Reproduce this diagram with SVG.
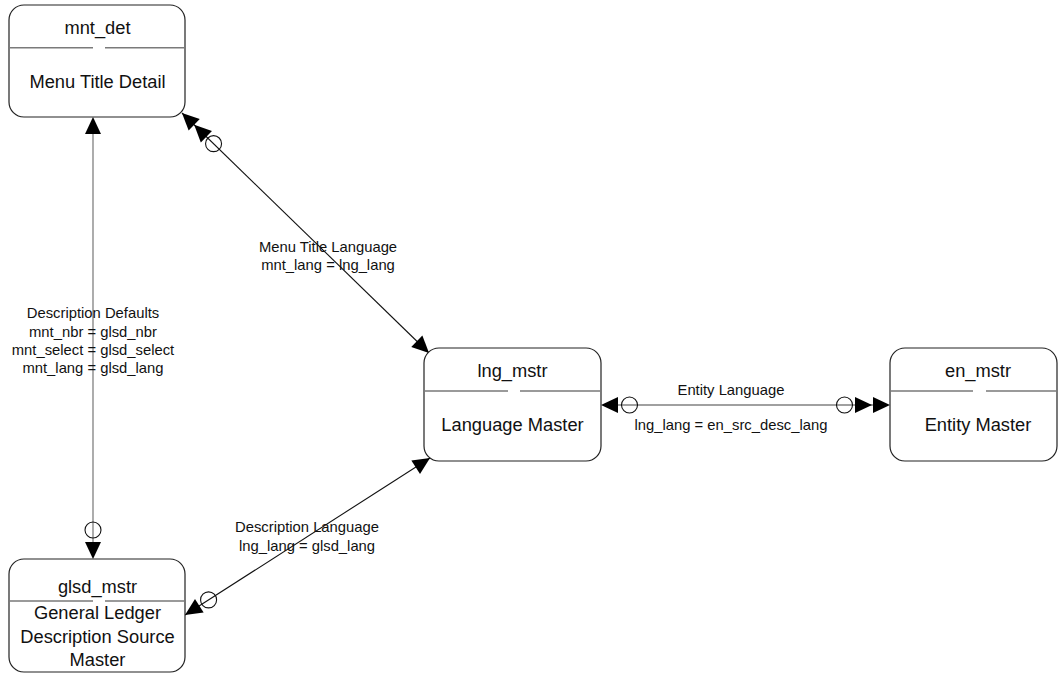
<svg xmlns="http://www.w3.org/2000/svg" width="1058" height="673" viewBox="0 0 1058 673">
<style>
.box{fill:#fff;stroke:#222;stroke-width:1.2}
.div{stroke:#7a7a7a;stroke-width:1.6;fill:none}
.t{font-family:"Liberation Sans",Arial,sans-serif;font-size:18.3px;fill:#111;text-anchor:middle}
.l{font-family:"Liberation Sans",Arial,sans-serif;font-size:14.8px;fill:#111;text-anchor:middle}
.cg{stroke:#808080;stroke-width:1.3;fill:none}
.cb{stroke:#111;stroke-width:1.1;fill:none}
.ah{fill:#000;stroke:none}
.ci{fill:none;stroke:#111;stroke-width:1.1}
</style>
<rect width="1058" height="673" fill="#fff"/>
<g id="connectors">
  <!-- mnt_det - glsd_mstr -->
  <line class="cg" x1="93" y1="120" x2="93" y2="556"/>
  <polygon class="ah" points="93,117 85,134 101,134"/>
  <polygon class="ah" points="93,559 85,542 101,542"/>
  <circle class="ci" cx="93" cy="530" r="8"/>
  <!-- mnt_det - lng_mstr -->
  <line class="cb" x1="182" y1="113" x2="429" y2="353"/>
  <polygon class="ah" points="182,113 188.62,130.59 199.77,119.11"/>
  <polygon class="ah" points="194.19,124.85 200.81,142.43 211.96,130.95"/>
  <circle class="ci" cx="213.56" cy="143.66" r="8"/>
  <polygon class="ah" points="429,353 411.24,346.89 422.39,335.41"/>
  <!-- glsd_mstr - lng_mstr -->
  <line class="cb" x1="185" y1="615" x2="430" y2="458"/>
  <polygon class="ah" points="185,615 203.63,612.57 195,599.09"/>
  <circle class="ci" cx="208.58" cy="599.89" r="8"/>
  <polygon class="ah" points="430,458 420.01,473.91 411.37,460.43"/>
  <!-- lng_mstr - en_mstr -->
  <line class="cg" x1="604" y1="405" x2="887" y2="405"/>
  <polygon class="ah" points="601,405 618,397 618,413"/>
  <circle class="ci" cx="629.5" cy="405" r="8"/>
  <circle class="ci" cx="844.5" cy="405" r="8"/>
  <polygon class="ah" points="855,397 855,413 872,405"/>
  <polygon class="ah" points="873,397 873,413 890,405"/>
  <!-- labels -->
  <text class="l" x="328" y="251.5">Menu Title Language</text>
  <text class="l" x="328" y="270">mnt_lang = lng_lang</text>
  <text class="l" x="93" y="318.3">Description Defaults</text>
  <text class="l" x="93" y="336.6">mnt_nbr = glsd_nbr</text>
  <text class="l" x="93" y="355">mnt_select = glsd_select</text>
  <text class="l" x="93" y="373.3">mnt_lang = glsd_lang</text>
  <text class="l" x="307" y="532">Description Language</text>
  <text class="l" x="307" y="550.5">lng_lang = glsd_lang</text>
  <text class="l" x="731" y="395">Entity Language</text>
  <text class="l" x="731" y="430">lng_lang = en_src_desc_lang</text>
</g>
<g id="mnt_det">
  <rect class="box" x="9" y="5" width="176" height="112" rx="15" ry="15"/>
  <path class="div" d="M9,47.7H93M105,47.7H185"/>
  <text class="t" x="97.5" y="33.5">mnt_det</text>
  <text class="t" x="97.5" y="87.5">Menu Title Detail</text>
</g>
<g id="glsd_mstr">
  <rect class="box" x="9" y="559" width="176" height="113" rx="15" ry="15"/>
  <path class="div" d="M9,601H93M105,601H185"/>
  <text class="t" x="97.5" y="593">glsd_mstr</text>
  <text class="t" x="97.5" y="619">General Ledger</text>
  <text class="t" x="97.5" y="643">Description Source</text>
  <text class="t" x="97.5" y="666">Master</text>
</g>
<g id="lng_mstr">
  <rect class="box" x="424" y="348" width="177" height="113" rx="15" ry="15"/>
  <path class="div" d="M424,391H508M520,391H601"/>
  <text class="t" x="512.5" y="377">lng_mstr</text>
  <text class="t" x="512.5" y="431">Language Master</text>
</g>
<g id="en_mstr">
  <rect class="box" x="890" y="348" width="167" height="113" rx="15" ry="15"/>
  <path class="div" d="M890,391H973M986,391H1057"/>
  <text class="t" x="978" y="377">en_mstr</text>
  <text class="t" x="978" y="431">Entity Master</text>
</g>
</svg>
